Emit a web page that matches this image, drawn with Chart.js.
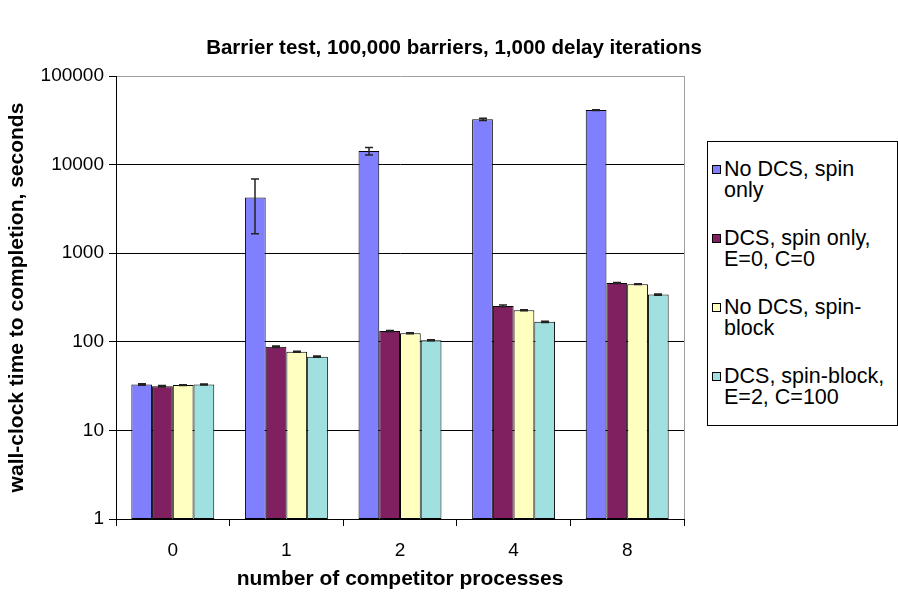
<!DOCTYPE html>
<html>
<head>
<meta charset="utf-8">
<script src="https://cdn.jsdelivr.net/npm/chart.js@4.4.1/dist/chart.umd.min.js"></script>
<style>
  html, body { margin: 0; padding: 0; background: #fff; }
  #wrap { position: relative; width: 898px; height: 592px; font-family: Arial, "Liberation Sans", sans-serif; color: #000; }
  #chart { position: absolute; left: 0; top: 0; }
  #title { position: absolute; left: 0; top: 35px; width: 908px; text-align: center; font-weight: bold; font-size: 20.5px; line-height: 24px; white-space: nowrap; }
  #legend { position: absolute; left: 707px; top: 141px; width: 191px; height: 285px; border: 1px solid #000; box-sizing: border-box; background: #fff; }
  .item { position: absolute; left: 0; width: 190px; font-size: 21.5px; line-height: 21px; }
  .swatch { position: absolute; left: 4px; top: 6px; width: 9px; height: 9px; border: 1px solid #000; box-sizing: border-box; }
  .text { position: absolute; left: 16px; top: 0; white-space: nowrap; }
</style>
</head>
<body>
<div id="wrap">
  <canvas id="chart" width="898" height="592"></canvas>
  <div id="title"></div>
  <div id="legend"></div>
</div>
<script>
// Chart text
const chartTitle = 'Barrier test, 100,000 barriers, 1,000 delay iterations';
const xTitle = 'number of competitor processes';
const yTitle = 'wall-clock time to completion, seconds';

// Categories: number of competing processes
const categories = ['0', '1', '2', '4', '8'];

// Decade tick values on the log axis
const yTicks = [1, 10, 100, 1000, 10000, 100000];

// Series names, split into the lines shown in the legend
const seriesNames = [
  ['No DCS, spin', 'only'],
  ['DCS, spin only,', 'E=0, C=0'],
  ['No DCS, spin-', 'block'],
  ['DCS, spin-block,', 'E=2, C=100']
];

// Mean completion time (seconds)
const noDcsSpin  = [33, 4260, 14200, 32400, 41200];
const dcsSpin    = [31.5, 88, 132, 254, 462];
const noDcsBlock = [32.5, 77, 125, 227, 447];
const dcsBlock   = [33, 68, 104, 168, 341];

// Error bar half-widths (seconds)
const noDcsSpinErr  = [0.6, 2600, 1400, 900, 500];
const dcsSpinErr    = [0.6, 1.5, 2.5, 6, 6];
const noDcsBlockErr = [0.3, 1, 1.5, 3, 4];
const dcsBlockErr   = [0.5, 1, 1.5, 2.5, 5];

const seriesColors = ['#8080FF', '#802060', '#FFFFC0', '#A0E0E0'];
const seriesValues = [noDcsSpin, dcsSpin, noDcsBlock, dcsBlock];
const seriesErrors = [noDcsSpinErr, dcsSpinErr, noDcsBlockErr, dcsBlockErr];

document.getElementById('title').textContent = chartTitle;

// Legend
const legend = document.getElementById('legend');
const itemTops = [17, 86, 155, 224];
seriesNames.forEach((lines, i) => {
  const item = document.createElement('div');
  item.className = 'item';
  item.style.top = itemTops[i] + 'px';
  const sw = document.createElement('div');
  sw.className = 'swatch';
  sw.style.background = seriesColors[i];
  const tx = document.createElement('div');
  tx.className = 'text';
  lines.forEach((ln, k) => {
    if (k) tx.appendChild(document.createElement('br'));
    tx.appendChild(document.createTextNode(ln));
  });
  item.appendChild(sw);
  item.appendChild(tx);
  legend.appendChild(item);
});

// Error bars drawn at each bar's centre using the value scale
const errorBars = {
  id: 'errorBars',
  afterDatasetsDraw(chart) {
    const { ctx, scales: { y } } = chart;
    ctx.save();
    ctx.strokeStyle = '#222';
    ctx.lineWidth = 1.5;
    chart.data.datasets.forEach((ds, di) => {
      const meta = chart.getDatasetMeta(di);
      const errs = seriesErrors[di];
      meta.data.forEach((bar, i) => {
        const v = ds.data[i], e = errs[i];
        const yHi = y.getPixelForValue(v + e);
        const yLo = y.getPixelForValue(Math.max(v - e, 1));
        const x = Math.round(bar.x);
        ctx.beginPath();
        ctx.moveTo(x, yHi); ctx.lineTo(x, yLo);
        ctx.moveTo(x - 4, yHi); ctx.lineTo(x + 4, yHi);
        ctx.moveTo(x - 4, yLo); ctx.lineTo(x + 4, yLo);
        ctx.stroke();
      });
    });
    ctx.restore();
  }
};

// Grey right edge of the plot area
const plotFrame = {
  id: 'plotFrame',
  beforeDatasetsDraw(chart) {
    const { ctx, chartArea: a } = chart;
    ctx.save();
    ctx.strokeStyle = '#a0a0a0';
    ctx.lineWidth = 1;
    ctx.beginPath();
    ctx.moveTo(Math.round(a.right) + 0.5, a.top);
    ctx.lineTo(Math.round(a.right) + 0.5, a.bottom);
    ctx.stroke();
    ctx.restore();
  }
};

const fontFamily = 'Arial, "Liberation Sans", sans-serif';

new Chart(document.getElementById('chart'), {
  type: 'bar',
  data: {
    labels: categories,
    datasets: seriesValues.map((vals, i) => ({
      label: seriesNames[i].join(' '),
      data: vals,
      backgroundColor: seriesColors[i],
      borderColor: '#000',
      borderWidth: 1,
      borderSkipped: false
    }))
  },
  options: {
    responsive: false,
    animation: false,
    devicePixelRatio: 1,
    layout: { padding: { top: 76, right: 214, left: 0, bottom: 0 } },
    datasets: { bar: { categoryPercentage: 0.73, barPercentage: 1.0 } },
    plugins: {
      legend: { display: false },
      tooltip: { enabled: false },
      title: { display: false }
    },
    scales: {
      x: {
        grid: { offset: true, drawOnChartArea: false, drawTicks: true, tickLength: 7, color: '#000' },
        border: { color: '#000', width: 1 },
        ticks: { color: '#000', font: { family: fontFamily, size: 19 }, padding: 13, maxRotation: 0 },
        title: {
          display: true, text: xTitle, color: '#000',
          font: { family: fontFamily, size: 21, weight: 'bold' },
          padding: { top: 0, bottom: 0 }
        },
        afterFit(s) { s.height = 73; }
      },
      y: {
        type: 'logarithmic',
        min: 1,
        max: 100000,
        afterBuildTicks(s) { s.ticks = yTicks.map(v => ({ value: v })); },
        grid: {
          color: (c) => (c.tick && c.tick.value === 100000) ? '#a0a0a0' : '#000',
          tickColor: '#000',
          tickLength: 7
        },
        border: { color: '#000', width: 1 },
        ticks: {
          color: '#000', autoSkip: false, padding: 5,
          font: { family: fontFamily, size: 19 },
          callback: (v) => String(v)
        },
        title: {
          display: true, text: yTitle, color: '#000',
          font: { family: fontFamily, size: 21, weight: 'bold' },
          padding: { top: 5, bottom: 0 }
        },
        afterFit(s) { s.width = 116; }
      }
    }
  },
  plugins: [errorBars, plotFrame]
});
</script>
</body>
</html>
